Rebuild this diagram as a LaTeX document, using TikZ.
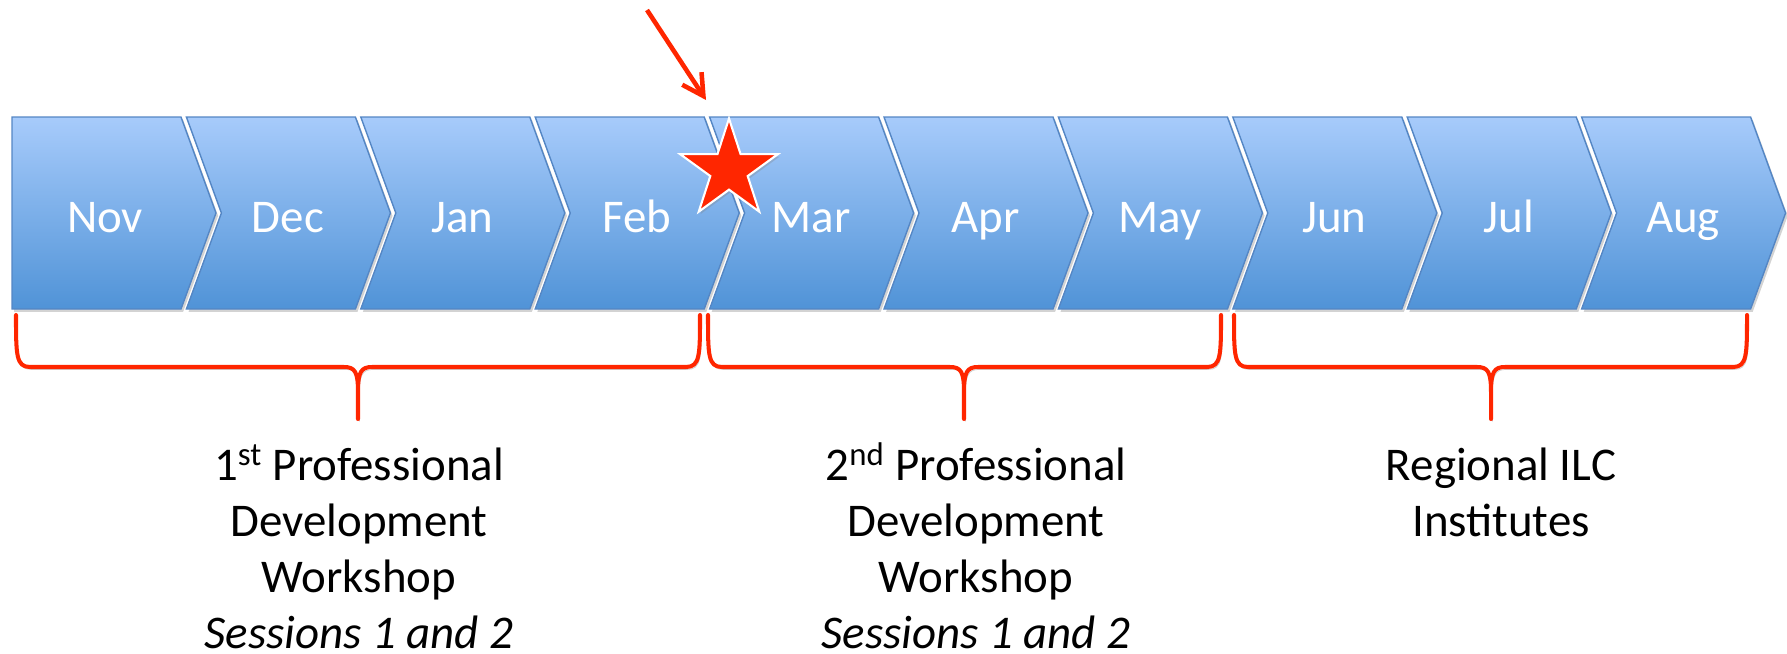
\documentclass[tikz,border=0pt]{standalone}
\usepackage{fontspec}
\setmainfont{Carlito}
\usetikzlibrary{shapes.geometric,shadows,arrows.meta}

\definecolor{chevtop}{RGB}{167,203,251}
\definecolor{chevbot}{RGB}{80,147,215}
\definecolor{chevline}{RGB}{84,134,196}
\definecolor{markred}{RGB}{255,38,0}

\tikzset{
  monthbox/.style={draw=chevline, line width=0.8pt, top color=chevtop, bottom color=chevbot,
    drop shadow={shadow xshift=1.2pt, shadow yshift=-1.6pt, opacity=0.35}},
  monthlabel/.style={text=white, font=\fontsize{26.7}{32}\selectfont, anchor=base, inner sep=0pt},
  bracket/.style={draw=markred, line width=2.3pt, line join=round, line cap=round,
    preaction={draw=black!20, transform canvas={shift={(0.8pt,-1.4pt)}}}},
  bigtext/.style={font=\fontsize{26.7}{31.7}\selectfont, align=center, anchor=base, inner sep=0pt}
}

\begin{document}
\begin{tikzpicture}[x=0.02cm, y=-0.02cm]
    \useasboundingbox (0,0) rectangle (1787,653);
    % month chevrons, left to right
    \foreach \m [count=\i from 0] in {Nov,Dec,Jan,Feb,Mar,Apr,May,Jun,Jul,Aug} {
        \pgfmathsetmacro{\xl}{12+174.4*\i}
        \ifnum\i=0
            \path[monthbox] (\xl,117) -- ++(169,0) -- ++(35,96) -- ++(-35,96) -- ++(-169,0) -- cycle;
            \node[monthlabel] (\m) at (\xl+93,232) {\m};
        \else
            \path[monthbox] (\xl,117) -- ++(169,0) -- ++(35,96) -- ++(-35,96) -- ++(-169,0) -- ++(35,-96) -- cycle;
            \node[monthlabel] (\m) at (\xl+101.5,232) {\m};
        \fi
    }
    % star and pointer
    \node[star, star points=5, star point ratio=2.618, minimum size=2.06cm, inner sep=0pt,
          fill=markred, draw=white, line width=1.2pt,
          drop shadow={shadow xshift=1pt, shadow yshift=-1.4pt, opacity=0.3}] (star) at (729,170) {};
    \coordinate (pin) at (647,10);
    \coordinate (pinend) at (706,100);
    \draw[markred, line width=2.6pt, -{Straight Barb[length=0.42cm, width=0.46cm]}] (pin) -- (pinend);
    % brackets under the months
    \foreach \a/\b/\c in {16/700/358, 708/1221/964, 1234/1747/1491} {
        \draw[bracket] (\a,315) .. controls (\a,355) and (\a,367) .. (\a+14,367) -- (\c-14,367)
            .. controls (\c-3,367) and (\c,372) .. (\c,392) -- (\c,419) -- (\c,392)
            .. controls (\c,372) and (\c+3,367) .. (\c+14,367) -- (\b-14,367)
            .. controls (\b,367) and (\b,355) .. (\b,315);
    }
    % base anchor sits on the last line
    \node[bigtext] (ws1) at (359,648) {1\textsuperscript{st} Professional\\Development\\Workshop\\\textit{Sessions 1 and 2}};
    \node[bigtext] (ws2) at (976,648) {2\textsuperscript{nd} Professional\\Development\\Workshop\\\textit{Sessions 1 and 2}};
    \node[bigtext] (ilc) at (1501,536) {Regional ILC\\Institutes};
\end{tikzpicture}
\end{document}
